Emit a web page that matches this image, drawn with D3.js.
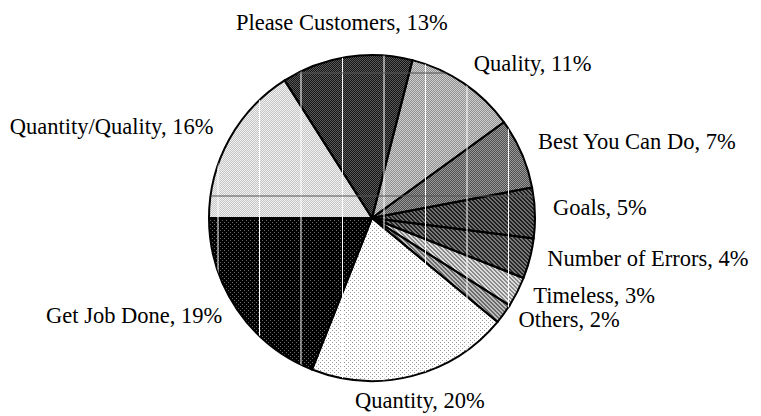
<!DOCTYPE html>
<html>
<head>
<meta charset="utf-8">
<script src="https://cdn.jsdelivr.net/npm/d3@7"></script>
<style>
  html, body { margin: 0; padding: 0; background: #fff; }
  svg { display: block; }
  text { font-family: "Liberation Serif", "Times New Roman", serif; font-size: 22.5px; fill: #000; }
</style>
</head>
<body>
<svg id="chart" width="761" height="416"></svg>
<script>
// slices, clockwise from the one that starts left of twelve o'clock
const categories = ['Please Customers', 'Quality', 'Best You Can Do', 'Goals', 'Number of Errors',
  'Timeless', 'Others', 'Quantity', 'Get Job Done', 'Quantity/Quality']
const shares = [13, 11, 7, 5, 4, 3, 2, 20, 19, 16]
const firstSliceAngle = -32.4 // degrees, where the first slice begins

const cx = 372
const cy = 218
const radius = 163

const svg = d3.select('#chart')
const defs = svg.append('defs')

const rad = deg => deg * Math.PI / 180

// pixel patterns, like the old printer fills
function pixelPattern (id, size, bg, fg, on) {
  const p = defs.append('pattern')
    .attr('id', id)
    .attr('patternUnits', 'userSpaceOnUse')
    .attr('width', size)
    .attr('height', size)
  p.append('rect').attr('width', size).attr('height', size).attr('fill', bg)
  for (let y = 0; y < size; y++) {
    for (let x = 0; x < size; x++) {
      if (on(x, y)) p.append('rect').attr('x', x).attr('y', y).attr('width', 1).attr('height', 1).attr('fill', fg)
    }
  }
}
const checker = (x, y) => (x + y) % 2 === 0
const diag = (x, y) => ((x - y + 8) % 4) < 2
const dots = (x, y) => (x === 0 && y === 0) || (x === 2 && y === 2)

pixelPattern('p0', 2, '#151515', '#5a5a5a', checker)
pixelPattern('p1', 2, '#8f8f8f', '#cfcfcf', checker)
pixelPattern('p2', 2, '#4f4f4f', '#999', checker)
pixelPattern('p3', 4, '#1e1e1e', '#6e6e6e', diag)
pixelPattern('p4', 4, '#262626', '#7a7a7a', diag)
pixelPattern('p5', 4, '#8a8a8a', '#dedede', diag)
pixelPattern('p6', 4, '#6a6a6a', '#bdbdbd', diag)
pixelPattern('p7', 4, '#fff', '#9a9a9a', dots)
pixelPattern('p8', 4, '#000', '#6a6a6a', dots)
pixelPattern('p9', 2, '#c4c4c4', '#f2f2f2', checker)
const fills = categories.map((c, i) => 'url(#p' + i + ')')

const pie = d3.pie()
  .sort(null)
  .value(d => d)
  .startAngle(rad(firstSliceAngle))
  .endAngle(rad(firstSliceAngle) + 2 * Math.PI)

const arcs = pie(shares)
const arc = d3.arc().innerRadius(0).outerRadius(radius)

defs.append('clipPath').attr('id', 'disk')
  .append('circle').attr('cx', cx).attr('cy', cy).attr('r', radius)

const g = svg.append('g').attr('transform', 'translate(' + cx + ',' + cy + ')')

g.selectAll('path.slice')
  .data(arcs)
  .join('path')
  .attr('class', 'slice')
  .attr('d', arc)
  .attr('fill', (d, i) => fills[i])

// faint grid left showing through the fills
const grid = svg.append('g').attr('clip-path', 'url(#disk)')
grid.selectAll('line.v')
  .data(d3.range(218, cx + radius, 41.5))
  .join('line')
  .attr('class', 'v')
  .attr('x1', d => d).attr('x2', d => d)
  .attr('y1', cy - radius).attr('y2', cy + radius)
  .attr('stroke', '#fff')
  .attr('stroke-width', 1)
grid.selectAll('line.h')
  .data(d3.range(73, cy, 123))
  .join('line')
  .attr('class', 'h')
  .attr('x1', cx - radius).attr('x2', cx + radius)
  .attr('y1', d => d).attr('y2', d => d)
  .attr('stroke', '#555')
  .attr('stroke-width', 1)

g.selectAll('path.edge')
  .data(arcs)
  .join('path')
  .attr('class', 'edge')
  .attr('d', arc)
  .attr('fill', 'none')
  .attr('stroke', '#000')
  .attr('stroke-width', 2)
  .attr('stroke-linejoin', 'round')

// labels outside the rim: side ones hang off a point, top/bottom ones centre on it
const labels = svg.append('g')
arcs.forEach((d, i) => {
  const mid = (d.startAngle + d.endAngle) / 2
  const s = Math.sin(mid)
  const c = Math.cos(mid)
  const side = Math.abs(s) > 0.45
  const r = side ? radius + 18 : radius + 30
  labels.append('text')
    .attr('x', cx + r * s)
    .attr('y', cy - r * c + 3)
    .attr('text-anchor', side ? (s > 0 ? 'start' : 'end') : 'middle')
    .text(categories[i] + ', ' + shares[i] + '%')
})
</script>
</body>
</html>
